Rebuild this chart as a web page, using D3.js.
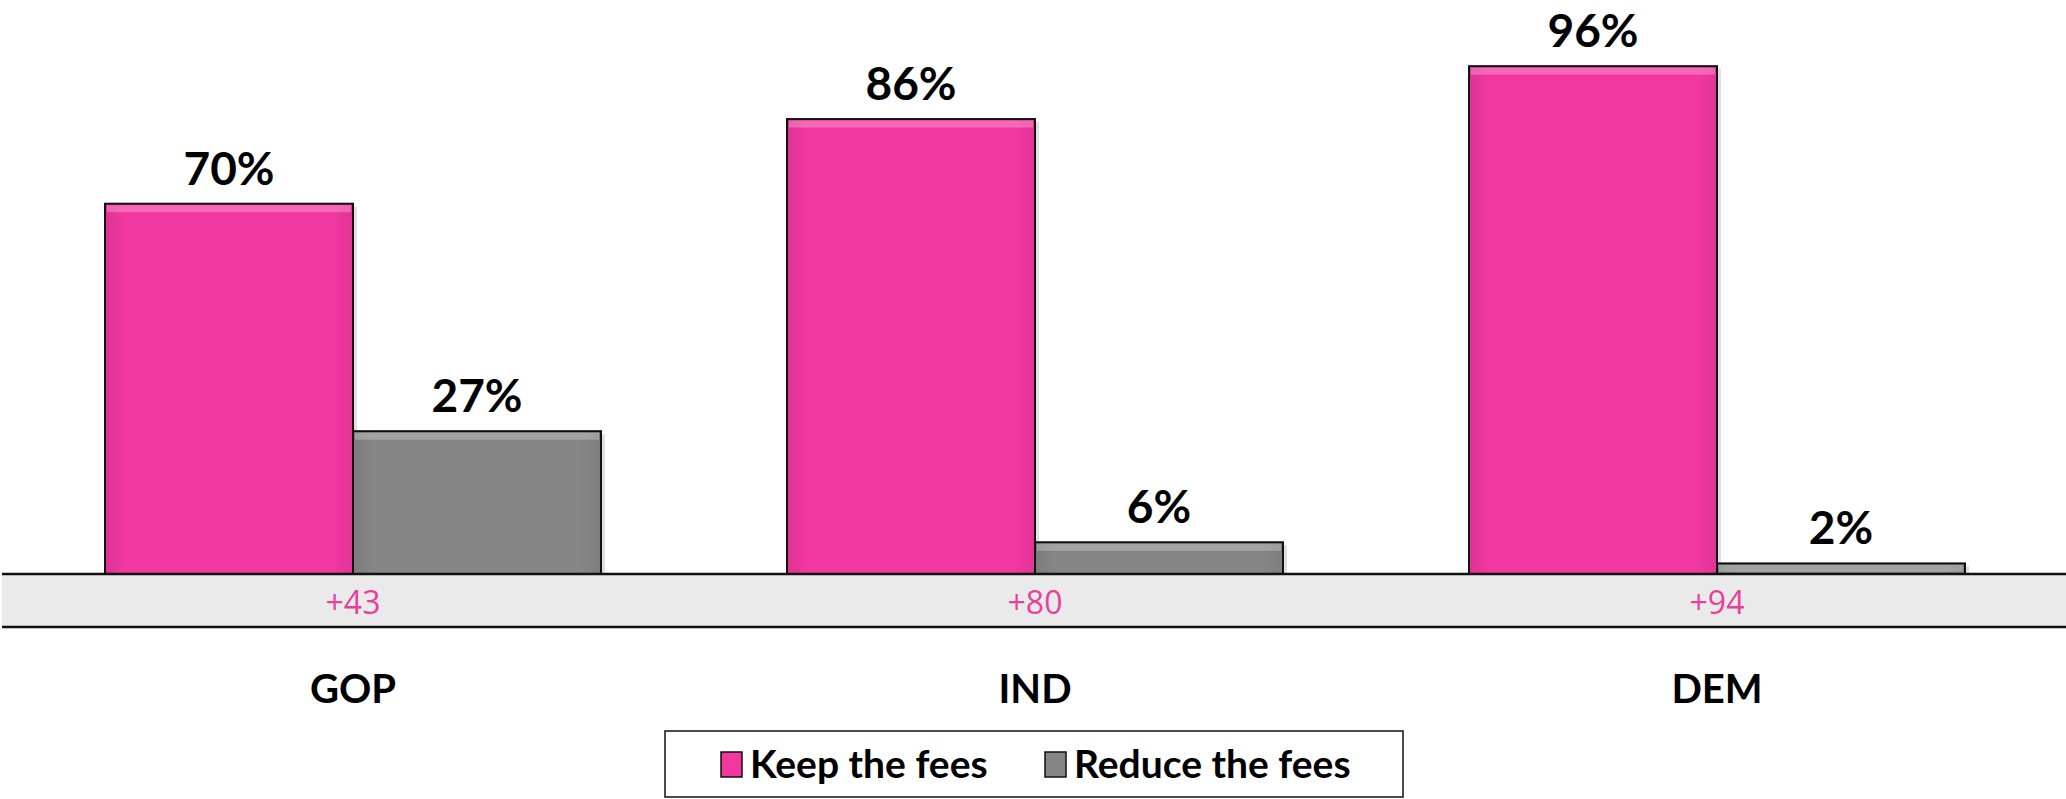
<!DOCTYPE html>
<html>
<head>
<meta charset="utf-8">
<style>
  body { margin: 0; background: #fff; }
</style>
</head>
<body>
<div id="chart"></div>
<script src="https://d3js.org/d3.v7.min.js"></script>
<script>
  // data
  var groups = ["GOP", "IND", "DEM"];
  var keepFees = [70, 86, 96];
  var reduceFees = [27, 6, 2];
  var netLabels = ["+43", "+80", "+94"];
  var seriesNames = ["Keep the fees", "Reduce the fees"];
  var seriesColors = ["#f237a1", "#868686"];

  var width = 2066;
  var height = 799;
  var baseY = 574;

  var svg = d3.select("#chart").append("svg")
    .attr("width", width)
    .attr("height", height);

  var defs = svg.append("defs");
  // soft bevel look on bars
  seriesColors.forEach(function(c, i) {
    var g = defs.append("linearGradient").attr("id", "grad" + i)
      .attr("x1", 0).attr("x2", 1).attr("y1", 0).attr("y2", 0);
    g.append("stop").attr("offset", "0%").attr("stop-color", d3.color(c).darker(0.25));
    g.append("stop").attr("offset", "8%").attr("stop-color", c);
    g.append("stop").attr("offset", "92%").attr("stop-color", c);
    g.append("stop").attr("offset", "100%").attr("stop-color", d3.color(c).darker(0.2));
  });

  var x0 = d3.scaleBand().domain(groups).range([12, 2058]).paddingInner(0).paddingOuter(0);
  var x1 = d3.scaleBand().domain([0, 1]).range([-248, 248]);
  var y = d3.scaleLinear().domain([0, 100]).range([baseY, baseY - 529]);

  // gray band under the axis
  svg.append("rect")
    .attr("x", 2).attr("y", baseY)
    .attr("width", width).attr("height", 53)
    .attr("fill", "#eaeaea");
  svg.append("line")
    .attr("x1", 2).attr("x2", width)
    .attr("y1", baseY + 53).attr("y2", baseY + 53)
    .attr("stroke", "#111").attr("stroke-width", 2.5);

  var rows = groups.map(function(g, i) { return [keepFees[i], reduceFees[i]]; });

  var grp = svg.selectAll(".grp").data(groups).enter().append("g")
    .attr("transform", function(d) { return "translate(" + (x0(d) + x0.bandwidth() / 2) + ",0)"; });

  grp.each(function(g, gi) {
    var sel = d3.select(this);
    rows[gi].forEach(function(v, si) {
      var bx = x1(si);
      var top = y(v);
      var h = baseY - top;
      sel.append("rect")
        .attr("x", bx + 4).attr("y", top + 3)
        .attr("width", x1.bandwidth()).attr("height", h - 3)
        .attr("fill", "#000").attr("opacity", 0.12);
      sel.append("rect")
        .attr("x", bx).attr("y", top)
        .attr("width", x1.bandwidth()).attr("height", h)
        .attr("fill", "url(#grad" + si + ")")
        .attr("stroke", "#111").attr("stroke-width", 2);
      // highlight strip at the top of the bar
      sel.append("rect")
        .attr("x", bx + 2).attr("y", top + 1.5)
        .attr("width", x1.bandwidth() - 4).attr("height", Math.min(7, h - 2))
        .attr("fill", "#fff").attr("opacity", 0.25);
      sel.append("text")
        .attr("x", bx + x1.bandwidth() / 2)
        .attr("y", top - 19)
        .attr("text-anchor", "middle")
        .attr("font-family", "Lato, sans-serif")
        .attr("font-weight", "bold")
        .attr("font-size", "46px")
        .attr("fill", "#000")
        .text(v + "%");
    });
    sel.append("text")
      .attr("x", 0).attr("y", baseY + 40)
      .attr("text-anchor", "middle")
      .attr("font-family", "'Open Sans', sans-serif")
      .attr("font-size", "32px")
      .attr("fill", "#e8409f")
      .text(netLabels[gi]);
    sel.append("text")
      .attr("x", 0).attr("y", 703)
      .attr("text-anchor", "middle")
      .attr("font-family", "Lato, sans-serif")
      .attr("font-weight", "bold")
      .attr("font-size", "40px")
      .attr("fill", "#000")
      .text(g);
  });

  // axis line on top of bars
  svg.append("line")
    .attr("x1", 2).attr("x2", width)
    .attr("y1", baseY).attr("y2", baseY)
    .attr("stroke", "#111").attr("stroke-width", 2.5);

  // legend
  var legend = svg.append("g");
  legend.append("rect")
    .attr("x", 665).attr("y", 731)
    .attr("width", 738).attr("height", 66)
    .attr("fill", "#fff").attr("stroke", "#111").attr("stroke-width", 1.5);
  var legX = [721, 1045];
  seriesNames.forEach(function(n, i) {
    legend.append("rect")
      .attr("x", legX[i]).attr("y", 752)
      .attr("width", 21).attr("height", 25)
      .attr("fill", "url(#grad" + i + ")")
      .attr("stroke", "#111").attr("stroke-width", 1.5);
    legend.append("text")
      .attr("x", legX[i] + 29).attr("y", 778)
      .attr("font-family", "Lato, sans-serif")
      .attr("font-weight", "bold")
      .attr("font-size", "39px")
      .attr("fill", "#000")
      .text(n);
  });
</script>
</body>
</html>
